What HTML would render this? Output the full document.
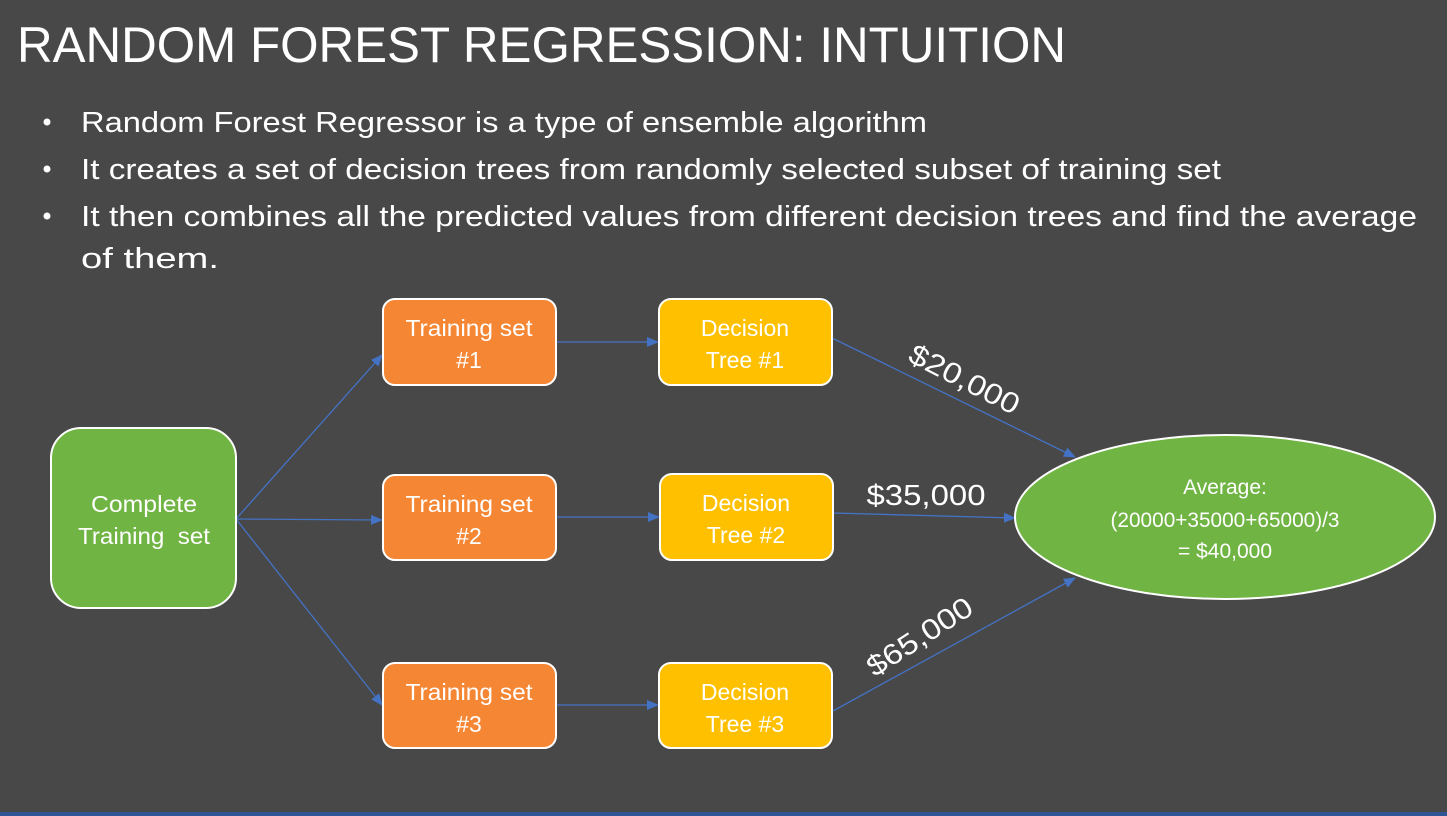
<!DOCTYPE html>
<html><head><meta charset="utf-8"><style>
html,body{margin:0;padding:0;background:#484848;}
svg{display:block}
text{font-family:"Liberation Sans",sans-serif;fill:#fff}
</style></head><body>
<svg width="1447" height="816" viewBox="0 0 1447 816" xmlns="http://www.w3.org/2000/svg">
<defs>
<marker id="a" markerWidth="12" markerHeight="12" refX="11" refY="6" orient="auto" markerUnits="userSpaceOnUse">
<path d="M0,1 L12,6 L0,11 Z" fill="#4472c4"/></marker>
</defs>
<rect width="1447" height="816" fill="#484848"/>
<rect x="0" y="812" width="1447" height="4" fill="#2f5597"/>
<text x="17" y="62" font-size="50" textLength="1049" lengthAdjust="spacingAndGlyphs">RANDOM FOREST REGRESSION: INTUITION</text>
<g font-size="29">
<circle cx="47" cy="122" r="3.5" fill="#fff"/>
<text x="81" y="132" textLength="846" lengthAdjust="spacingAndGlyphs">Random Forest Regressor is a type of ensemble algorithm</text>
<circle cx="47" cy="169" r="3.5" fill="#fff"/>
<text x="81" y="179" textLength="1140" lengthAdjust="spacingAndGlyphs">It creates a set of decision trees from randomly selected subset of training set</text>
<circle cx="47" cy="216" r="3.5" fill="#fff"/>
<text x="81" y="226" textLength="1336" lengthAdjust="spacingAndGlyphs">It then combines all the predicted values from different decision trees and find the average</text>
<text x="81" y="268" textLength="138" lengthAdjust="spacingAndGlyphs">of them.</text>
</g>
<g stroke="#4472c4" stroke-width="1.3" fill="none" marker-end="url(#a)">
<line x1="236" y1="519" x2="382" y2="355"/>
<line x1="236" y1="519" x2="382" y2="520"/>
<line x1="236" y1="519" x2="382" y2="705"/>
<line x1="556" y1="342" x2="658" y2="342"/>
<line x1="556" y1="517" x2="659" y2="517"/>
<line x1="556" y1="705" x2="658" y2="705"/>
<line x1="832" y1="338" x2="1075" y2="457"/>
<line x1="833" y1="513" x2="1015" y2="518"/>
<line x1="833" y1="711" x2="1075" y2="578"/>
</g>
<rect x="51" y="428" width="185" height="180" rx="30" fill="#70b443" stroke="#fff" stroke-width="2"/>
<g font-size="23" text-anchor="middle">
<text x="144" y="512" textLength="106" lengthAdjust="spacingAndGlyphs">Complete</text>
<text x="144" y="544" textLength="132" lengthAdjust="spacingAndGlyphs" xml:space="preserve">Training  set</text>
</g>
<g fill="#f58634" stroke="#fff" stroke-width="2">
<rect x="383" y="299" width="173" height="86" rx="12"/>
<rect x="383" y="475" width="173" height="85" rx="12"/>
<rect x="383" y="663" width="173" height="85" rx="12"/>
</g>
<g fill="#ffc000" stroke="#fff" stroke-width="2">
<rect x="659" y="299" width="173" height="86" rx="12"/>
<rect x="660" y="474" width="173" height="86" rx="12"/>
<rect x="659" y="663" width="173" height="85" rx="12"/>
</g>
<g font-size="23" text-anchor="middle">
<text x="469" y="336" textLength="127" lengthAdjust="spacingAndGlyphs">Training set</text><text x="469" y="368">#1</text>
<text x="469" y="512" textLength="127" lengthAdjust="spacingAndGlyphs">Training set</text><text x="469" y="544">#2</text>
<text x="469" y="700" textLength="127" lengthAdjust="spacingAndGlyphs">Training set</text><text x="469" y="732">#3</text>
<text x="745" y="336">Decision</text><text x="745" y="368">Tree #1</text>
<text x="746" y="511">Decision</text><text x="746" y="543">Tree #2</text>
<text x="745" y="700">Decision</text><text x="745" y="732">Tree #3</text>
</g>
<ellipse cx="1225" cy="517" rx="210" ry="82" fill="#70b443" stroke="#fff" stroke-width="2"/>
<g font-size="21" text-anchor="middle">
<text x="1225" y="494">Average:</text>
<text x="1225" y="527" textLength="229" lengthAdjust="spacingAndGlyphs">(20000+35000+65000)/3</text>
<text x="1225" y="558">= $40,000</text>
</g>
<g font-size="29">
<text x="926" y="505" textLength="119" lengthAdjust="spacingAndGlyphs" text-anchor="middle">$35,000</text>
<text transform="translate(960,388) rotate(27)" text-anchor="middle" textLength="120" lengthAdjust="spacingAndGlyphs">$20,000</text>
<text transform="translate(925,645) rotate(-33)" text-anchor="middle" textLength="120" lengthAdjust="spacingAndGlyphs">$65,000</text>
</g>
</svg>
</body></html>
